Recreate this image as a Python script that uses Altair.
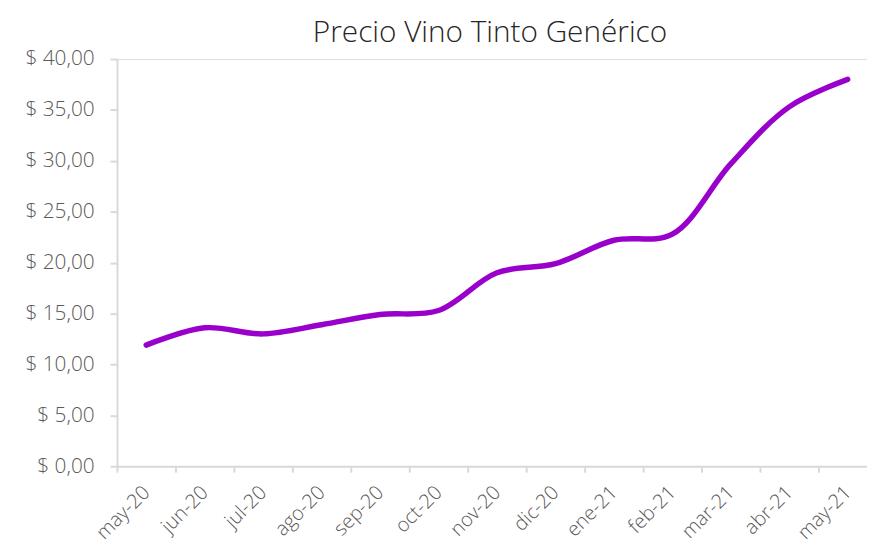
import altair as alt
import pandas as pd

months = ["may-20", "jun-20", "jul-20", "ago-20", "sep-20", "oct-20", "nov-20",
          "dic-20", "ene-21", "feb-21", "mar-21", "abr-21", "may-21"]
prices = [11.9, 13.6, 13.0, 13.9, 14.9, 15.3, 19.0, 19.9, 22.2, 22.8, 29.7, 35.3, 38.0]

df = pd.DataFrame({"mes": months, "precio": prices})

FONT = "Open Sans"

chart = alt.Chart(df).mark_line(
    color="#9900CC", strokeWidth=5.5, interpolate="catmull-rom", strokeCap="round"
).encode(
    x=alt.X("mes:N", sort=months, title=None,
            scale=alt.Scale(range=[0, 767], paddingInner=0, paddingOuter=0),
            axis=alt.Axis(labelAngle=-45, labelAlign="right", labelBaseline="middle",
                          labelFontSize=20, labelColor="#595959", labelFont=FONT,
                          labelFontWeight=300,
                          domainColor="#d9d9d9", domainWidth=2, tickColor="#d9d9d9",
                          tickWidth=2, tickSize=6, tickBand="extent", labelPadding=17,
                          grid=False)),
    y=alt.Y("precio:Q", title=None,
            scale=alt.Scale(domain=[0, 40], nice=False),
            axis=alt.Axis(values=[0, 5, 10, 15, 20, 25, 30, 35, 40],
                          labelExpr='"$ " + replace(format(datum.value, ".2f"), ".", ",")',
                          labelFontSize=21, labelColor="#595959", labelFont=FONT,
                          labelFontWeight=300,
                          domainColor="#d9d9d9", domainWidth=2, tickColor="#d9d9d9",
                          tickWidth=2, tickSize=7, labelPadding=16, grid=False)),
).properties(
    width=757, height=411,
    autosize=alt.AutoSizeParams(type="none"),
    padding={"left": 110, "top": 49, "right": 0, "bottom": 79},
    title=alt.TitleParams("Precio Vino Tinto Genérico", fontSize=30, font=FONT,
                          fontWeight=300, color="#262626", anchor="middle",
                          dx=-2, offset=0),
).configure_view(stroke=None).configure(background="white")

chart.save("out.html", embed_options={"renderer": "svg", "actions": False})
